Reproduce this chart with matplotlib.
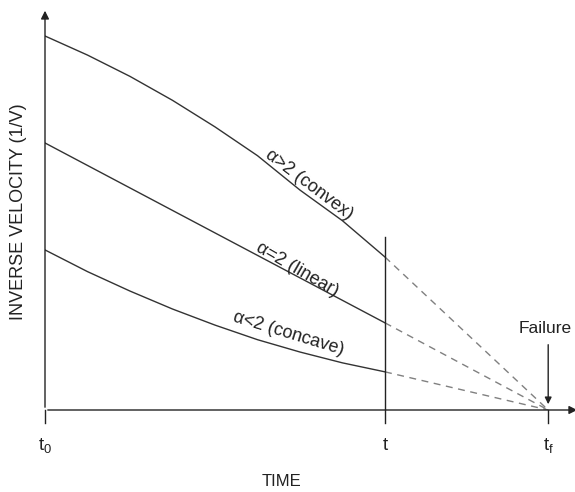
import matplotlib
matplotlib.use("Agg")
import matplotlib.pyplot as plt

plt.rcParams['font.family'] = ['Liberation Sans', 'DejaVu Sans']

# time axis: t0 = 0, t = 1, tf = failure time
t_now = 1.0
t_fail = 1.48

# inverse velocity readings (arbitrary units), t0 .. t
x_curve = [0, 0.125, 0.25, 0.375, 0.5, 0.625, 0.75, 0.875, 1.0]
convexo = [1.0, 0.949, 0.892, 0.828, 0.757, 0.680, 0.588, 0.506, 0.409]
concavo = [0.428, 0.370, 0.318, 0.270, 0.227, 0.188, 0.155, 0.126, 0.102]
x_lineal = [0, 1.0]
lineal = [0.714, 0.233]

etiquetas = ["α>2 (convex)", "α=2 (linear)", "α<2 (concave)"]

fig = plt.figure(figsize=(5.75, 4.92), dpi=100)
ax = fig.add_axes([45/575, 82/492, 530/575, 410/492])
ax.set_xlim(0, 530/340)
ax.set_ylim(0, 410/374)
ax.axis('off')

col = '#333333'
txt = '#222222'
ax.plot(x_curve, convexo, color=col, lw=1)
ax.plot(x_lineal, lineal, color=col, lw=1)
ax.plot(x_curve, concavo, color=col, lw=1)

# extrapolacion hasta la falla
for serie in (convexo, lineal, concavo):
    ax.plot([t_now, t_fail], [serie[-1], 0], color='#808080', lw=1, ls=(0, (5, 4)))

# ejes con flechas
ax.annotate('', xy=(0, 1.075), xytext=(0, 0),
            arrowprops=dict(arrowstyle='-|>', color='#222222', lw=1, mutation_scale=12))
ax.annotate('', xy=(535/340, 0), xytext=(0, 0), annotation_clip=False,
            arrowprops=dict(arrowstyle='-|>', color='#222222', lw=1, mutation_scale=12))

# marcas de tiempo
for xt in (0, t_now, t_fail):
    ax.plot([xt, xt], [0, -0.035], color='#222222', lw=1, clip_on=False)
ax.plot([t_now, t_now], [0, 0.463], color='#222222', lw=1)

# flecha de falla
ax.annotate('', xy=(t_fail, 0.008), xytext=(t_fail, 0.182),
            arrowprops=dict(arrowstyle='-|>', color='#222222', lw=1, mutation_scale=10))
ax.text(573/340 - 45/340 - 0.003, 0.219, 'Failure', ha='right', va='center', fontsize=12.5, color=txt)

# etiquetas de tiempo
ax.text(0, -0.095, r'$\mathregular{t_0}$', ha='center', va='center', fontsize=13.5, color=txt, clip_on=False)
ax.text(t_now, -0.095, 't', ha='center', va='center', fontsize=13.5, color=txt, clip_on=False)
ax.text(t_fail, -0.095, r'$\mathregular{t_f}$', ha='center', va='center', fontsize=13.5, color=txt, clip_on=False)

# etiquetas de curvas
ax.text(0.776, 0.601, etiquetas[0], rotation=-37, ha='center', va='center', fontsize=13, color=txt)
ax.text(0.742, 0.376, etiquetas[1], rotation=-30, ha='center', va='center', fontsize=13, color=txt)
ax.text(0.715, 0.203, etiquetas[2], rotation=-17, ha='center', va='center', fontsize=13, color=txt)

fig.text(282/575, 1 - 482/492, 'TIME', ha='center', va='center', fontsize=12, color=txt)
fig.text(19/575, 1 - 212/492, 'INVERSE VELOCITY (1/V)', rotation=90, ha='center', va='center',
         fontsize=13, color=txt)

fig.savefig('out.png', dpi=100)
